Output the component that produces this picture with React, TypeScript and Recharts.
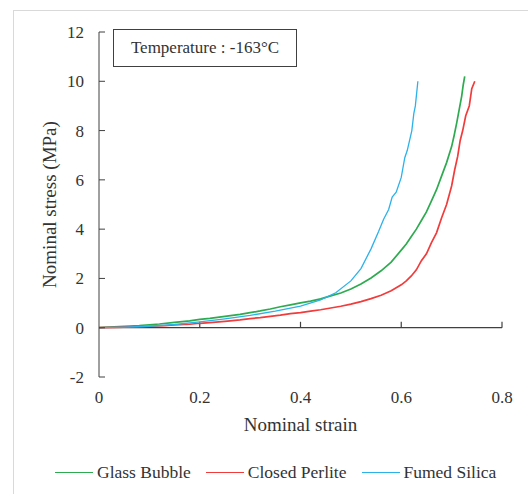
import React from 'react';
import { LineChart, Line, XAxis, YAxis, ReferenceLine } from 'recharts';

// strain (x) vs stress in MPa (y)
const glassBubble = [
  { x: 0, y: 0 }, { x: 0.02, y: 0.03 }, { x: 0.05, y: 0.06 }, { x: 0.08, y: 0.09 },
  { x: 0.1, y: 0.12 }, { x: 0.12, y: 0.15 }, { x: 0.15, y: 0.22 }, { x: 0.18, y: 0.28 },
  { x: 0.2, y: 0.34 }, { x: 0.22, y: 0.38 }, { x: 0.25, y: 0.46 }, { x: 0.28, y: 0.54 },
  { x: 0.3, y: 0.61 }, { x: 0.32, y: 0.68 }, { x: 0.34, y: 0.76 }, { x: 0.36, y: 0.85 },
  { x: 0.38, y: 0.93 }, { x: 0.4, y: 1.01 }, { x: 0.42, y: 1.08 }, { x: 0.44, y: 1.17 },
  { x: 0.46, y: 1.29 }, { x: 0.48, y: 1.41 }, { x: 0.5, y: 1.57 }, { x: 0.52, y: 1.77 },
  { x: 0.54, y: 2.02 }, { x: 0.56, y: 2.31 }, { x: 0.58, y: 2.66 }, { x: 0.6, y: 3.15 },
  { x: 0.61, y: 3.4 }, { x: 0.62, y: 3.7 }, { x: 0.63, y: 4.0 }, { x: 0.64, y: 4.35 },
  { x: 0.65, y: 4.7 }, { x: 0.66, y: 5.15 }, { x: 0.67, y: 5.6 }, { x: 0.68, y: 6.15 },
  { x: 0.69, y: 6.7 }, { x: 0.7, y: 7.35 }, { x: 0.705, y: 7.8 }, { x: 0.71, y: 8.3 },
  { x: 0.715, y: 8.85 }, { x: 0.72, y: 9.4 }, { x: 0.723, y: 9.85 }, { x: 0.726, y: 10.2 },
];

const closedPerlite = [
  { x: 0, y: 0 }, { x: 0.03, y: 0.01 }, { x: 0.05, y: 0.02 }, { x: 0.08, y: 0.04 },
  { x: 0.1, y: 0.06 }, { x: 0.13, y: 0.08 }, { x: 0.15, y: 0.11 }, { x: 0.18, y: 0.14 },
  { x: 0.2, y: 0.18 }, { x: 0.22, y: 0.21 }, { x: 0.25, y: 0.26 }, { x: 0.28, y: 0.32 },
  { x: 0.3, y: 0.37 }, { x: 0.32, y: 0.41 }, { x: 0.34, y: 0.46 }, { x: 0.36, y: 0.51 },
  { x: 0.38, y: 0.57 }, { x: 0.4, y: 0.61 }, { x: 0.42, y: 0.67 }, { x: 0.44, y: 0.73 },
  { x: 0.46, y: 0.8 }, { x: 0.48, y: 0.87 }, { x: 0.5, y: 0.96 }, { x: 0.52, y: 1.06 },
  { x: 0.54, y: 1.18 }, { x: 0.56, y: 1.32 }, { x: 0.58, y: 1.5 }, { x: 0.6, y: 1.74 },
  { x: 0.61, y: 1.9 }, { x: 0.62, y: 2.1 }, { x: 0.63, y: 2.35 }, { x: 0.64, y: 2.72 },
  { x: 0.65, y: 3.0 }, { x: 0.66, y: 3.45 }, { x: 0.67, y: 3.85 }, { x: 0.68, y: 4.45 },
  { x: 0.69, y: 5.0 }, { x: 0.7, y: 5.75 }, { x: 0.706, y: 6.4 }, { x: 0.712, y: 6.95 },
  { x: 0.717, y: 7.6 }, { x: 0.722, y: 8.0 }, { x: 0.728, y: 8.6 }, { x: 0.735, y: 9.0 },
  { x: 0.74, y: 9.7 }, { x: 0.746, y: 10.0 },
];

const fumedSilica = [
  { x: 0, y: 0 }, { x: 0.05, y: 0.02 }, { x: 0.1, y: 0.06 }, { x: 0.15, y: 0.13 },
  { x: 0.2, y: 0.24 }, { x: 0.25, y: 0.36 }, { x: 0.3, y: 0.5 }, { x: 0.35, y: 0.67 },
  { x: 0.4, y: 0.88 }, { x: 0.44, y: 1.13 }, { x: 0.47, y: 1.42 }, { x: 0.5, y: 1.9 },
  { x: 0.52, y: 2.4 }, { x: 0.54, y: 3.2 }, { x: 0.555, y: 3.9 }, { x: 0.565, y: 4.4 },
  { x: 0.575, y: 4.8 }, { x: 0.582, y: 5.3 }, { x: 0.59, y: 5.5 }, { x: 0.6, y: 6.1 },
  { x: 0.607, y: 6.9 }, { x: 0.612, y: 7.2 }, { x: 0.621, y: 8.0 }, { x: 0.625, y: 8.7 },
  { x: 0.628, y: 9.0 }, { x: 0.633, y: 10.0 },
];

const xTicks = [0, 0.2, 0.4, 0.6, 0.8];
const yTicks = [-2, 0, 2, 4, 6, 8, 10, 12];

const series = [
  { name: 'Glass Bubble', data: glassBubble, color: '#2eab50', width: 1.7 },
  { name: 'Closed Perlite', data: closedPerlite, color: '#f23b3b', width: 1.7 },
  { name: 'Fumed Silica', data: fumedSilica, color: '#2cb2ea', width: 1.3 },
];

const FONT = 'Liberation Serif';
const AXIS = '#404040';
const TEXT = '#333333';

export default function App() {
  return (
    <div style={{ position: 'absolute', left: 0, top: 0, width: 528, height: 494, overflow: 'hidden', background: '#fff', fontFamily: FONT }}>
      {/* outer frame */}
      <div style={{ position: 'absolute', left: 13, top: 10, width: 540, height: 520, border: '1px solid #d9d9d9' }} />

      <LineChart width={528} height={494} margin={{ top: 32, right: 26, left: 0, bottom: 0 }} style={{ fontFamily: FONT }}>
        <XAxis
          type="number"
          dataKey="x"
          domain={[0, 0.8]}
          ticks={xTicks}
          axisLine={false}
          tickLine={false}
          tickSize={0}
          tickMargin={14}
          height={117}
          tick={{ fill: TEXT, fontSize: 17, fontFamily: FONT }}
          label={{ value: 'Nominal  strain', position: 'insideTop', offset: 41, fill: TEXT, fontSize: 19, fontFamily: FONT, style: { whiteSpace: 'pre' } }}
        />
        <YAxis
          type="number"
          domain={[-2, 12]}
          ticks={yTicks}
          width={99}
          stroke={AXIS}
          tickSize={-6}
          tickMargin={21}
          tick={{ fill: TEXT, fontSize: 17, fontFamily: FONT }}
          label={{ value: 'Nominal stress (MPa)', angle: -90, position: 'center', fill: TEXT, fontSize: 19, fontFamily: FONT }}
        />
        <ReferenceLine y={0} stroke={AXIS} strokeWidth={1.2} />
        {xTicks.slice(1).map((t) => (
          <ReferenceLine
            key={t}
            segment={[{ x: t, y: 0 }, { x: t, y: 0.24 }]}
            stroke={AXIS}
            strokeWidth={1.2}
          />
        ))}
        {series.map((s) => (
          <Line
            key={s.name}
            data={s.data}
            dataKey="y"
            name={s.name}
            type="linear"
            stroke={s.color}
            strokeWidth={s.width}
            dot={false}
            isAnimationActive={false}
          />
        ))}
      </LineChart>

      {/* temperature note */}
      <div style={{ position: 'absolute', left: 113, top: 29, width: 184, height: 38, border: '1.5px solid #404040', boxSizing: 'border-box', display: 'flex', alignItems: 'center', justifyContent: 'center', fontSize: 17, color: TEXT }}>
        Temperature : -163°C
      </div>

      {/* legend */}
      <div style={{ position: 'absolute', left: 55, top: 462, display: 'flex', alignItems: 'center', fontSize: 17.5, color: TEXT, whiteSpace: 'nowrap' }}>
        {series.map((s, i) => (
          <div key={s.name} style={{ display: 'flex', alignItems: 'center', marginLeft: i === 0 ? 0 : 15 }}>
            <span style={{ display: 'inline-block', width: 38, height: 0, borderTop: `1.5px solid ${s.color}`, marginRight: 4 }} />
            <span>{s.name}</span>
          </div>
        ))}
      </div>
    </div>
  );
}
